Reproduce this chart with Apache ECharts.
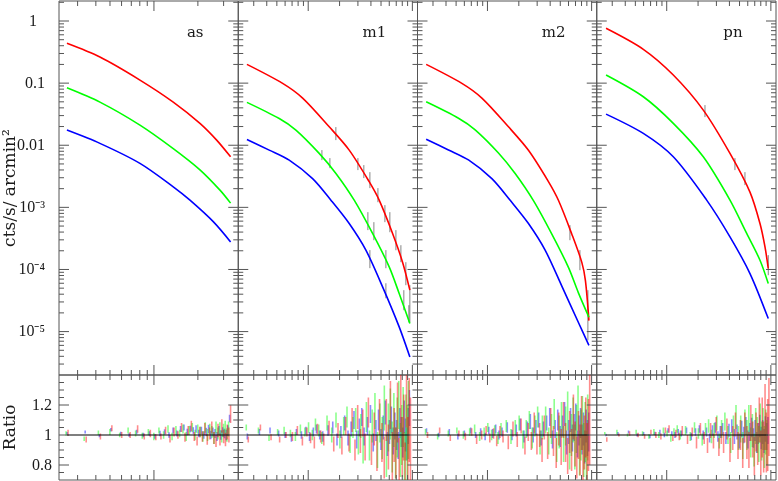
<!DOCTYPE html>
<html><head><meta charset="utf-8">
<script src="https://cdn.jsdelivr.net/npm/echarts@6/dist/echarts.min.js"></script>
<style>html,body{margin:0;padding:0;background:#fff}#c{width:778px;height:481px}</style>
</head><body><div id="c"></div>
<script>
// ---------------- DATA ----------------
const PANEL_NAMES = ['as', 'm1', 'm2', 'pn'];
const X_RANGES = [[0.2237, 3.78], [0.213, 11.2], [0.213, 11.2], [0.213, 11.2]];
const Y_RANGE = [2e-6, 2.1];
const RATIO_RANGE = [0.7, 1.4];

const Y_MAJOR = [1e-5, 1e-4, 1e-3, 0.01, 0.1, 1];
const Y_LABELS = ['10⁻⁵', '10⁻⁴', '10⁻³', '0.01', '0.1', '1'];
const Y_MINOR_MANTISSA = [2, 3, 4, 5, 6, 7, 8, 9];
const X_MAJOR = [1, 10];
const X_MINOR = [0.3, 0.4, 0.5, 0.6, 0.7, 0.8, 0.9, 2, 3, 4, 5, 6, 7, 8, 9];
const R_MAJOR = [0.8, 1.0, 1.2];
const R_LABELS = ['0.8', '1', '1.2'];
const R_MINOR = [0.75, 0.85, 0.9, 0.95, 1.05, 1.1, 1.15, 1.25, 1.3, 1.35];

// model curves [x, cts/s/arcmin2]
const asRed   = [[0.2535,0.4375],[0.4266,0.263],[0.802,0.112],[1.356,0.0495],[2.066,0.0225],[2.689,0.0121],[3.35,0.00651]];
const asGreen = [[0.2535,0.0842],[0.4266,0.0495],[0.802,0.0211],[1.356,0.00883],[2.066,0.00402],[2.833,0.001894],[3.35,0.00117]];
const asBlue  = [[0.2535,0.01754],[0.4266,0.01071],[0.802,0.0051],[1.356,0.00214],[1.765,0.001306],[2.548,0.000589],[3.35,0.000278]];

const m1Red   = [[0.258,0.2006],[0.568,0.0992],[0.884,0.0575],[1.591,0.01982],[2.475,0.00835],[3.849,0.00259],[4.80,0.001307],[6.457,0.00038],[8.05,0.000131],[9.46,4.64e-5]];
const m1Green = [[0.258,0.049],[0.527,0.0269],[0.762,0.01754],[1.275,0.00739],[1.845,0.00352],[2.764,0.001307],[4.15,0.00038],[5.99,0.0001101],[7.47,4.1e-5],[9.46,1.35e-5]];
const m1Blue  = [[0.258,0.0124],[0.4223,0.00835],[0.657,0.00576],[1.102,0.0029],[1.652,0.001307],[2.475,0.00055],[3.578,0.000205],[5.176,5.25e-5],[7.47,1.19e-5],[9.46,3.9e-6]];

const m2Red   = [[0.258,0.2006],[0.568,0.0992],[0.884,0.0575],[1.591,0.0198],[2.475,0.0083],[3.849,0.0026],[4.80,0.0013],[6.457,0.00037],[8.05,0.00013],[8.72,6.6e-5],[9.42,1.5e-5]];
const m2Green = [[0.258,0.05],[0.527,0.0272],[0.762,0.0177],[1.275,0.0075],[1.845,0.0035],[2.764,0.00128],[4.15,0.00037],[5.99,0.000108],[7.47,4.2e-5],[9.42,1.7e-5]];
const m2Blue  = [[0.258,0.0125],[0.4223,0.0084],[0.657,0.0058],[1.102,0.0029],[1.652,0.0013],[2.475,0.00055],[3.578,0.000205],[5.176,5.4e-5],[7.47,1.4e-5],[9.42,6.0e-6]];

const pnRed   = [[0.2616,0.763],[0.5963,0.35],[1.157,0.1349],[2.245,0.0368],[4.05,0.00739],[6.30,0.001758],[7.86,0.00055],[8.78,0.000231],[9.44,0.0001037]];
const pnGreen = [[0.2616,0.1349],[0.5963,0.0603],[1.157,0.0225],[2.245,0.00651],[4.05,0.001307],[5.86,0.00038],[7.86,0.000141],[9.44,5.94e-5]];
const pnBlue  = [[0.2616,0.0317],[0.5963,0.0155],[1.157,0.00651],[2.42,0.001307],[4.05,0.000335],[6.30,8.6e-5],[9.44,1.62e-5]];

// black data error bars [x, low, high]
const m1DataRed   = [[1.843,0.0121,0.0196],[3.0,0.00398,0.00621],[3.42,0.00296,0.00479],[3.91,0.00204,0.00369],[4.67,0.00121,0.00204],[5.45,0.000578,0.001086],[6.08,0.000398,0.000837],[6.95,0.000204,0.00043],[7.76,0.000131,0.000246],[8.66,5.58e-5,1.31e-4],[9.46,1.41e-5,5.58e-5]];
const m1DataGreen = [[1.354,0.00576,0.00835],[1.615,0.00428,0.00621],[3.74,0.00043,0.000837],[4.27,0.000296,0.000578],[5.57,0.0001048,0.000205],[8.28,2.21e-5,4.64e-5],[9.25,1.41e-5,2.66e-5]];
const m1DataBlue  = [[3.91,1.05e-4,2.05e-4],[5.57,3.44e-5,6.0e-5]];
const m2DataRed   = [[6.19,2.96e-4,5.17e-4],[7.72,9.73e-5,2.05e-4],[9.21,7.25e-6,4.64e-5]];
const pnDataRed   = [[2.33,0.0284,0.0443],[4.52,0.00398,0.00621],[5.64,0.00228,0.00369],[9.44,8.09e-5,1.7e-4]];

// ratio bins
const asBins = [0.254,0.338,0.423,0.507,0.592,0.676,0.761,0.845,0.930,1.014,1.099,1.183,1.268,1.352,1.437,1.521,1.606,1.690,1.775,1.859,1.944,2.028,2.113,2.197,2.282,2.366,2.451,2.535,2.620,2.704,2.789,2.873,2.958,3.042,3.127,3.211,3.296];
const mBins = [0.26,0.34,0.43,0.52,0.60,0.69,0.77,0.86,0.95,1.03,1.12,1.20,1.29,1.38,1.55,1.72,1.89,2.06,2.24,2.41,2.58,2.75,2.92,3.10,3.27,3.44,3.70,3.96,4.21,4.47,4.73,4.99,5.25,5.50,5.76,6.02,6.28,6.54,6.79,7.05,7.31,7.57,7.83,8.08,8.34,8.60,8.86,9.12,9.37];

// ratio centres (R) and half errors (E)
const asRedR = [1.015,0.97,0.99,1.045,1.0,1.0,1.04,0.99,1.01,0.985,0.99,1.03,0.975,1.02,1.0,1.05,0.985,1.03,1.06,0.99,0.96,1.02,0.99,1.04,0.97,1.01,1.05,0.98,0.96,1.03,0.97,1.06,0.99,0.97,1.02,1.0,1.14];
const asRedE = [0.02,0.02,0.02,0.02,0.02,0.02,0.025,0.02,0.025,0.02,0.02,0.025,0.025,0.03,0.025,0.03,0.03,0.03,0.035,0.03,0.03,0.035,0.035,0.04,0.035,0.04,0.04,0.04,0.04,0.045,0.04,0.045,0.045,0.045,0.05,0.05,0.06];
const asGreenR = [1.01,0.975,1.015,1.02,1.0,1.03,1.01,0.995,1.02,0.99,1.03,1.0,1.04,0.99,1.03,1.01,1.04,0.99,1.03,1.05,1.0,1.04,1.02,0.99,1.05,1.0,1.04,1.02,0.98,1.05,1.01,1.04,0.99,1.03,1.05,1.0,1.04];
const asGreenE = [0.015,0.015,0.015,0.02,0.015,0.02,0.02,0.02,0.02,0.025,0.02,0.025,0.025,0.025,0.03,0.025,0.03,0.03,0.03,0.03,0.035,0.03,0.035,0.035,0.035,0.04,0.035,0.04,0.04,0.04,0.04,0.045,0.04,0.045,0.045,0.045,0.05];
const asBlueR = [1.01,1.02,0.995,1.035,1.01,1.0,1.02,1.0,1.01,0.99,1.01,1.02,1.0,1.03,1.01,1.04,1.05,1.02,1.04,1.03,1.04,1.01,1.03,1.0,1.02,1.04,1.0,1.02,1.01,0.99,1.03,1.0,1.02,1.01,1.0,1.03,1.11];
const asBlueE = [0.01,0.01,0.01,0.012,0.012,0.012,0.015,0.015,0.015,0.015,0.018,0.018,0.018,0.02,0.02,0.02,0.02,0.022,0.022,0.022,0.025,0.025,0.025,0.025,0.028,0.028,0.028,0.03,0.03,0.03,0.03,0.032,0.032,0.032,0.035,0.035,0.025];

const m1RedR = [0.97,1.05,0.985,0.97,1.0,0.99,1.03,0.96,1.02,0.98,0.95,1.04,0.99,0.97,1.05,0.94,1.03,0.93,1.06,0.95,1.1,0.9,1.12,0.96,1.08,0.92,1.15,0.9,1.04,0.88,1.12,0.95,0.85,1.1,0.92,1.2,0.86,1.0,0.88,1.15,0.84,1.22,0.92,1.05,0.8,1.25,0.9,1.1,0.95];
const m1RedE = [0.02,0.02,0.02,0.02,0.02,0.03,0.03,0.03,0.03,0.035,0.04,0.035,0.04,0.04,0.045,0.05,0.05,0.06,0.06,0.06,0.08,0.07,0.08,0.08,0.09,0.09,0.1,0.1,0.11,0.12,0.12,0.13,0.14,0.14,0.15,0.16,0.16,0.18,0.17,0.2,0.14,0.2,0.2,0.22,0.15,0.2,0.22,0.28,0.3];
const m1GreenR = [1.05,1.03,0.98,1.02,1.03,1.01,0.99,1.04,1.02,1.05,1.0,1.07,1.03,0.98,1.08,1.0,1.1,0.97,1.06,1.12,0.94,1.05,1.1,0.95,1.06,0.9,1.12,0.93,1.06,1.16,0.9,1.08,0.98,1.18,0.86,1.05,1.14,0.92,1.1,0.88,1.05,1.2,0.9,1.0,1.12,0.86,1.05,0.95,1.1];
const m1GreenE = [0.02,0.02,0.02,0.02,0.025,0.025,0.03,0.03,0.03,0.035,0.035,0.04,0.04,0.04,0.05,0.05,0.05,0.06,0.06,0.07,0.06,0.07,0.08,0.08,0.08,0.09,0.1,0.1,0.11,0.12,0.12,0.13,0.14,0.15,0.14,0.16,0.17,0.17,0.18,0.17,0.2,0.16,0.18,0.2,0.2,0.16,0.22,0.25,0.26];
const m1BlueR = [0.99,1.02,1.03,1.01,1.0,0.98,1.02,1.0,1.03,0.99,1.02,1.04,1.0,0.99,1.03,1.05,0.97,1.02,1.08,0.98,1.04,1.1,0.97,1.05,1.12,0.99,1.06,1.14,0.95,1.03,1.1,0.97,1.05,1.15,0.94,1.02,1.1,0.96,1.06,1.0,0.93,1.08,1.02,0.95,1.12,1.0,0.94,1.06,1.18];
const m1BlueE = [0.02,0.02,0.02,0.02,0.02,0.025,0.02,0.025,0.025,0.03,0.03,0.03,0.03,0.035,0.035,0.04,0.04,0.04,0.05,0.05,0.05,0.06,0.06,0.06,0.06,0.06,0.06,0.06,0.06,0.07,0.07,0.07,0.08,0.08,0.08,0.08,0.09,0.09,0.09,0.1,0.09,0.1,0.1,0.1,0.11,0.11,0.11,0.12,0.12];

const m2RedR = [1.0,1.03,0.98,1.01,0.99,1.02,0.97,1.0,1.03,0.98,1.01,0.96,1.02,0.99,0.95,1.04,0.97,1.06,0.93,1.02,0.96,1.08,0.94,1.0,0.9,1.05,0.93,1.08,0.96,0.88,1.04,0.92,1.1,0.95,0.86,1.02,0.9,1.12,0.94,0.85,1.0,0.9,1.08,0.84,0.95,1.05,0.88,1.0,1.1];
const m2RedE = [0.02,0.02,0.02,0.02,0.025,0.025,0.03,0.03,0.03,0.03,0.035,0.035,0.04,0.04,0.045,0.05,0.05,0.05,0.06,0.06,0.06,0.07,0.07,0.08,0.08,0.08,0.09,0.1,0.1,0.1,0.11,0.12,0.12,0.13,0.12,0.14,0.14,0.15,0.15,0.14,0.16,0.17,0.18,0.16,0.18,0.2,0.2,0.24,0.3];
const m2GreenR = [1.02,0.99,1.01,1.03,1.0,1.02,1.04,0.99,1.02,1.05,1.0,1.03,0.98,1.04,1.06,0.99,1.05,1.08,0.97,1.04,1.1,0.98,1.06,1.12,0.95,1.05,1.1,0.96,1.04,1.14,0.92,1.02,1.1,0.94,1.06,1.16,0.9,1.0,1.1,0.92,1.04,1.18,0.88,1.0,1.08,0.9,1.02,0.85,1.05];
const m2GreenE = [0.02,0.02,0.02,0.02,0.025,0.025,0.03,0.03,0.03,0.03,0.035,0.035,0.04,0.04,0.04,0.05,0.05,0.05,0.06,0.06,0.06,0.07,0.07,0.07,0.08,0.08,0.09,0.09,0.1,0.1,0.1,0.11,0.12,0.12,0.13,0.13,0.13,0.14,0.15,0.15,0.16,0.15,0.15,0.17,0.18,0.18,0.2,0.18,0.22];
const m2BlueR = [1.03,1.0,1.02,0.99,1.01,1.03,1.0,1.02,0.99,1.03,1.01,1.04,1.0,1.02,1.05,1.0,1.03,1.07,0.99,1.04,1.09,1.0,1.05,1.1,0.98,1.04,1.08,1.12,0.97,1.04,1.1,0.99,1.06,1.14,0.95,1.02,1.1,0.98,1.05,1.12,0.94,1.03,1.08,0.97,1.04,0.92,1.06,0.98,1.02];
const m2BlueE = [0.015,0.015,0.02,0.02,0.02,0.02,0.02,0.025,0.025,0.025,0.03,0.03,0.03,0.03,0.035,0.035,0.04,0.04,0.04,0.05,0.05,0.05,0.05,0.05,0.05,0.05,0.05,0.06,0.06,0.06,0.07,0.07,0.07,0.08,0.08,0.08,0.08,0.09,0.09,0.09,0.09,0.1,0.1,0.1,0.11,0.11,0.11,0.12,0.13];

const pnRedR = [0.97,1.0,1.01,1.0,0.99,1.02,1.0,0.99,1.03,1.04,0.98,1.01,0.99,1.03,0.97,1.02,0.95,1.04,0.98,0.93,1.03,0.96,1.06,0.92,1.0,0.95,1.04,0.9,0.98,1.07,0.93,1.0,0.88,1.05,0.95,0.9,1.08,0.97,0.86,1.02,0.94,1.1,0.88,1.05,0.92,1.12,0.95,1.0,1.12];
const pnRedE = [0.015,0.01,0.015,0.015,0.015,0.015,0.02,0.02,0.02,0.025,0.02,0.025,0.025,0.03,0.03,0.03,0.04,0.04,0.04,0.05,0.05,0.05,0.06,0.06,0.06,0.07,0.07,0.08,0.08,0.08,0.09,0.1,0.1,0.1,0.11,0.12,0.12,0.12,0.13,0.13,0.14,0.15,0.15,0.2,0.17,0.22,0.2,0.24,0.26];
const pnGreenR = [1.01,1.02,1.0,1.02,1.01,0.99,1.02,1.0,1.03,1.01,0.98,1.02,1.04,1.0,1.03,0.99,1.05,1.01,0.97,1.04,1.06,0.99,1.03,1.08,0.96,1.04,1.09,1.0,0.95,1.06,1.12,0.98,1.04,0.93,1.08,1.0,1.1,0.95,1.03,0.9,1.06,1.0,0.94,1.08,0.96,1.04,0.92,1.02,0.95];
const pnGreenE = [0.01,0.015,0.01,0.015,0.015,0.015,0.02,0.02,0.02,0.02,0.025,0.025,0.025,0.03,0.03,0.03,0.035,0.035,0.04,0.04,0.045,0.045,0.05,0.05,0.05,0.06,0.06,0.06,0.07,0.07,0.08,0.08,0.09,0.09,0.09,0.1,0.1,0.1,0.11,0.11,0.12,0.12,0.12,0.13,0.13,0.14,0.14,0.15,0.15];
const pnBlueR = [1.0,1.01,1.02,1.0,1.01,0.99,1.01,1.02,1.0,1.03,1.01,1.0,1.02,1.01,1.03,0.99,1.02,1.04,1.0,1.02,0.98,1.03,1.05,0.99,1.02,1.04,0.98,1.03,1.06,0.99,1.02,0.96,1.04,1.0,1.06,0.97,1.02,1.05,0.98,1.03,0.95,1.01,1.06,0.98,1.02,0.96,1.04,0.99,1.03];
const pnBlueE = [0.008,0.01,0.01,0.01,0.01,0.012,0.012,0.015,0.015,0.015,0.015,0.02,0.02,0.02,0.02,0.025,0.025,0.025,0.03,0.03,0.03,0.035,0.035,0.035,0.04,0.04,0.04,0.045,0.045,0.05,0.05,0.05,0.055,0.055,0.06,0.06,0.06,0.065,0.065,0.07,0.07,0.07,0.075,0.075,0.08,0.08,0.085,0.09,0.09];

// ---------------- ASSEMBLY ----------------
const COLORS = { red: '#ff0000', green: '#00ff00', blue: '#0000ff' };
const MODELS = [
  { red: asRed, green: asGreen, blue: asBlue },
  { red: m1Red, green: m1Green, blue: m1Blue },
  { red: m2Red, green: m2Green, blue: m2Blue },
  { red: pnRed, green: pnGreen, blue: pnBlue }
];
const DATA_BARS = [[], [m1DataRed, m1DataGreen, m1DataBlue], [m2DataRed], [pnDataRed]];
const RATIOS = [
  { bins: asBins, red: [asRedR, asRedE], green: [asGreenR, asGreenE], blue: [asBlueR, asBlueE] },
  { bins: mBins, red: [m1RedR, m1RedE], green: [m1GreenR, m1GreenE], blue: [m1BlueR, m1BlueE] },
  { bins: mBins, red: [m2RedR, m2RedE], green: [m2GreenR, m2GreenE], blue: [m2BlueR, m2BlueE] },
  { bins: mBins, red: [pnRedR, pnRedE], green: [pnGreenR, pnGreenE], blue: [pnBlueR, pnBlueE] }
];

const FRAME = '#555';
const TEXT = '#1a1a1a';
const LEFTS = [59, 238.25, 417.5, 596.75], W = 179.25;
const TOP_Y = 1, TOP_H = 374, BOT_Y = 375, BOT_H = 105;

function hiddenAxis(extra) {
  return Object.assign({
    axisLine: { show: false }, axisTick: { show: false },
    axisLabel: { show: false }, splitLine: { show: false }
  }, extra);
}

const Y_MINOR = [];
for (let k = -6; k <= 0; k++) Y_MINOR_MANTISSA.forEach(m => Y_MINOR.push(m * Math.pow(10, k)));

function tickRender(params, api) {
  const cs = params.coordSys;
  const kind = api.value(2), major = api.value(3);
  const len = major ? 10 : 5;
  const p = api.coord([api.value(0), api.value(1)]);
  const st = { stroke: FRAME, lineWidth: 1 };
  if (kind === 0) {
    const y = p[1];
    return { type: 'group', children: [
      { type: 'line', shape: { x1: cs.x, y1: y, x2: cs.x + len, y2: y }, style: st },
      { type: 'line', shape: { x1: cs.x + cs.width - len, y1: y, x2: cs.x + cs.width, y2: y }, style: st }
    ]};
  }
  const x = p[0];
  return { type: 'group', children: [
    { type: 'line', shape: { x1: x, y1: cs.y, x2: x, y2: cs.y + len }, style: st },
    { type: 'line', shape: { x1: x, y1: cs.y + cs.height - len, x2: x, y2: cs.y + cs.height }, style: st }
  ]};
}

function tickSeries(g, xr, yr, yMaj, yMin) {
  const data = [];
  const inY = v => v > yr[0] * 1.0000001 && v < yr[1] * 0.9999999;
  const inX = v => v > xr[0] && v < xr[1];
  yMaj.filter(inY).forEach(v => data.push([xr[0], v, 0, 1]));
  yMin.filter(inY).forEach(v => data.push([xr[0], v, 0, 0]));
  X_MAJOR.filter(inX).forEach(v => data.push([v, yr[0], 1, 1]));
  X_MINOR.filter(inX).forEach(v => data.push([v, yr[0], 1, 0]));
  return { type: 'custom', xAxisIndex: g, yAxisIndex: g, data, silent: true, z: 6,
           encode: { x: 0, y: 1 }, renderItem: tickRender };
}

function labelSeries(g, xr, vals, texts, gap, padOne) {
  const data = vals.map((v, i) => [xr[0], v, i]);
  return { type: 'custom', xAxisIndex: g, yAxisIndex: g, data, silent: true, z: 6,
    encode: { x: 0, y: 1 },
    renderItem: (params, api) => {
      const cs = params.coordSys;
      const p = api.coord([api.value(0), api.value(1)]);
      const t = texts[api.value(2)];
      const extra = (padOne && t === '1') ? 8 : 0;
      return { type: 'text', x: cs.x - gap - extra, y: p[1] + 0.5,
        style: { text: t, align: 'right', verticalAlign: 'middle',
                 fontFamily: 'Liberation Serif', fontSize: 16, fill: TEXT } };
    } };
}

function barSeries(g, data, color, dx, width, opacity, clampRange, z) {
  return { type: 'custom', xAxisIndex: g, yAxisIndex: g, data, silent: true, z,
    clip: true, encode: { x: 0, y: [1, 2] },
    renderItem: (params, api) => {
      let lo = api.value(1), hi = api.value(2);
      if (clampRange) { lo = Math.max(lo, clampRange[0]); hi = Math.min(hi, clampRange[1]); }
      const a = api.coord([api.value(0), lo]);
      const b = api.coord([api.value(0), hi]);
      return { type: 'line', shape: { x1: a[0] + dx, y1: a[1], x2: b[0] + dx, y2: b[1] },
               style: { stroke: color, lineWidth: width, opacity } };
    } };
}

const grid = [], xAxis = [], yAxis = [], series = [], graphic = [];

for (let r = 0; r < 2; r++) {
  for (let i = 0; i < 4; i++) {
    grid.push({ left: LEFTS[i], top: r ? BOT_Y : TOP_Y, width: W, height: r ? BOT_H : TOP_H, show: true,
                borderColor: FRAME, borderWidth: 1, backgroundColor: 'rgba(0,0,0,0)' });
  }
}

for (let g = 0; g < 8; g++) {
  const i = g % 4;
  xAxis.push(hiddenAxis({ type: 'log', logBase: 10, gridIndex: g, min: X_RANGES[i][0], max: X_RANGES[i][1] }));
}
const nameStyle = { fontFamily: 'DejaVu Serif', fontSize: 17, color: TEXT };
for (let i = 0; i < 4; i++) {
  const ax = hiddenAxis({ type: 'log', logBase: 10, gridIndex: i, min: Y_RANGE[0], max: Y_RANGE[1] });
  if (i === 0) Object.assign(ax, { name: 'cts/s/ arcmin²', nameLocation: 'middle', nameRotate: 90, nameGap: 40, nameTextStyle: nameStyle });
  yAxis.push(ax);
}
for (let i = 0; i < 4; i++) {
  const ax = hiddenAxis({ type: 'value', gridIndex: 4 + i, min: RATIO_RANGE[0], max: RATIO_RANGE[1] });
  if (i === 0) Object.assign(ax, { name: 'Ratio', nameLocation: 'middle', nameRotate: 90, nameGap: 40, nameTextStyle: nameStyle });
  yAxis.push(ax);
}

for (let i = 0; i < 4; i++) {
  const xr = X_RANGES[i];
  ['red', 'green', 'blue'].forEach(c => {
    series.push({ type: 'line', xAxisIndex: i, yAxisIndex: i, data: MODELS[i][c],
      showSymbol: false, smooth: 0.3, clip: true, silent: true, z: 3,
      lineStyle: { color: COLORS[c], width: 1.6 } });
  });
  DATA_BARS[i].forEach(d => series.push(barSeries(i, d, '#333', 0, 1, 0.6, null, 2)));
  series.push(tickSeries(i, xr, Y_RANGE, Y_MAJOR, Y_MINOR));
  series.push(tickSeries(4 + i, xr, RATIO_RANGE, R_MAJOR, R_MINOR));
  const R = RATIOS[i];
  const offs = { red: 1, green: -1, blue: 0 };
  ['blue', 'green', 'red'].forEach(c => {
    const [cen, err] = R[c];
    const n = Math.min(R.bins.length, cen.length, err.length);
    const d = [];
    for (let k = 0; k < n; k++) d.push([R.bins[k], cen[k] - err[k], cen[k] + err[k]]);
    series.push(barSeries(4 + i, d, COLORS[c], offs[c], 1.6, 0.45, RATIO_RANGE, 3));
  });
  series.push({ type: 'line', xAxisIndex: 4 + i, yAxisIndex: 4 + i,
    data: [[R.bins[0], 1], [R.bins[R.bins.length - 1], 1]],
    showSymbol: false, silent: true, z: 5, lineStyle: { color: '#000', width: 1.2 } });
  graphic.push({ type: 'text', x: LEFTS[i] + 0.76 * W, y: 33,
    style: { text: PANEL_NAMES[i], align: 'center', verticalAlign: 'middle',
             fontFamily: 'DejaVu Serif', fontSize: 15, fill: TEXT } });
}
series.push(labelSeries(0, X_RANGES[0], Y_MAJOR, Y_LABELS, 14, true));
series.push(labelSeries(4, X_RANGES[0], R_MAJOR, R_LABELS, 7, false));

const chart = echarts.init(document.getElementById('c'), null, { renderer: 'canvas', width: 778, height: 481 });
chart.setOption({ animation: false, backgroundColor: '#fff', grid, xAxis, yAxis, series, graphic });
</script></body></html>
